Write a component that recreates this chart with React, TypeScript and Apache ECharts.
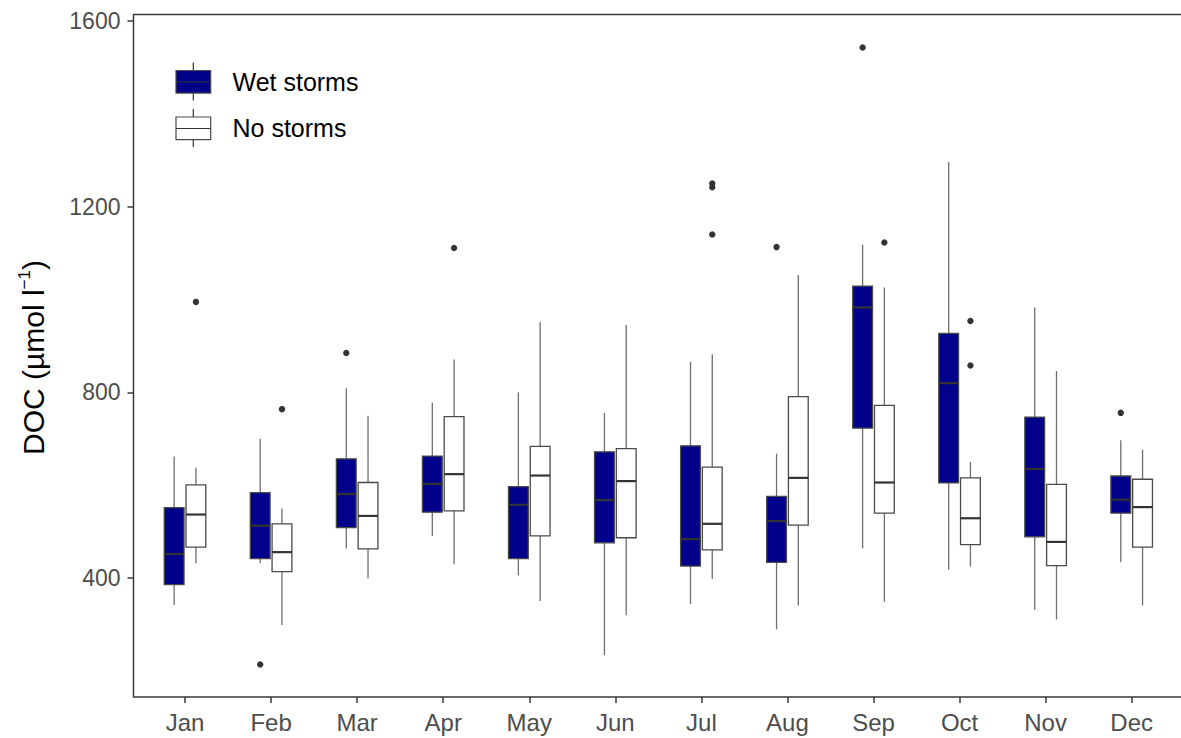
import React, { useEffect, useRef } from "react";
import * as echarts from "echarts";

const months = ["Jan", "Feb", "Mar", "Apr", "May", "Jun", "Jul", "Aug", "Sep", "Oct", "Nov", "Dec"];

// [min, Q1, median, Q3, max] per month
const wetStorms = [
  [342, 386, 452, 552, 662],
  [432, 442, 513, 584, 700],
  [464, 509, 581, 657, 809],
  [491, 542, 603, 663, 778],
  [406, 442, 558, 597, 800],
  [234, 476, 568, 672, 756],
  [344, 426, 484, 685, 866],
  [290, 434, 523, 576, 668],
  [464, 723, 983, 1029, 1118],
  [418, 605, 820, 927, 1296],
  [332, 489, 635, 747, 983],
  [435, 540, 569, 620, 697],
];

const noStorms = [
  [432, 467, 537, 601, 638],
  [299, 414, 456, 517, 550],
  [400, 463, 534, 606, 750],
  [430, 545, 624, 748, 871],
  [351, 491, 621, 684, 951],
  [320, 487, 609, 679, 945],
  [398, 461, 517, 639, 882],
  [341, 514, 616, 791, 1053],
  [349, 540, 606, 772, 1026],
  [425, 472, 529, 616, 650],
  [311, 427, 478, 602, 846],
  [341, 467, 553, 613, 677],
];

// [month index, value]
const wetOutliers = [
  [1, 214],
  [2, 885],
  [7, 1113],
  [8, 1543],
  [11, 756],
];
const noOutliers = [
  [0, 995],
  [1, 764],
  [3, 1111],
  [6, 1250],
  [6, 1242],
  [6, 1140],
  [8, 1123],
  [9, 954],
  [9, 858],
];

const yTicks = [400, 800, 1200, 1600];

const FONT = "'Liberation Sans', Arial, Helvetica, sans-serif";
const WET_FILL = "#00008B";
const BOX_STROKE = "#4a4a4a";
const WHISKER = "#6e6e6e";
const MEDIAN = "#333333";
const OFFSET_FRAC = 0.1265;
const WIDTH_FRAC = 0.23;

function boxRenderer(offsetSign: number, fill: string) {
  return (params: any, api: any) => {
    const idx = api.value(0);
    const bw = api.size([1, 0])[0];
    const cx = api.coord([idx, api.value(3)])[0] + offsetSign * OFFSET_FRAC * bw;
    const half = (WIDTH_FRAC * bw) / 2;
    const yMin = api.coord([idx, api.value(1)])[1];
    const yQ1 = api.coord([idx, api.value(2)])[1];
    const yMed = api.coord([idx, api.value(3)])[1];
    const yQ3 = api.coord([idx, api.value(4)])[1];
    const yMax = api.coord([idx, api.value(5)])[1];
    return {
      type: "group",
      children: [
        { type: "line", shape: { x1: cx, y1: yMax, x2: cx, y2: yQ3 }, style: { stroke: WHISKER, lineWidth: 1.3 } },
        { type: "line", shape: { x1: cx, y1: yQ1, x2: cx, y2: yMin }, style: { stroke: WHISKER, lineWidth: 1.3 } },
        {
          type: "rect",
          shape: { x: cx - half, y: yQ3, width: 2 * half, height: yQ1 - yQ3 },
          style: { fill, stroke: BOX_STROKE, lineWidth: 1.3 },
        },
        {
          type: "line",
          shape: { x1: cx - half, y1: yMed, x2: cx + half, y2: yMed },
          style: { stroke: MEDIAN, lineWidth: 2.2 },
        },
      ],
    };
  };
}

function outlierRenderer(offsetSign: number) {
  return (params: any, api: any) => {
    const idx = api.value(0);
    const bw = api.size([1, 0])[0];
    const p = api.coord([idx, api.value(1)]);
    return {
      type: "circle",
      shape: { cx: p[0] + offsetSign * OFFSET_FRAC * bw, cy: p[1], r: 3.2 },
      style: { fill: "#333333" },
    };
  };
}

export default function App() {
  const ref = useRef<HTMLDivElement>(null);

  useEffect(() => {
    if (!ref.current) return;
    const chart = echarts.init(ref.current, undefined, { renderer: "svg" });

    const wetData = wetStorms.map((d, i) => [i, ...d]);
    const noData = noStorms.map((d, i) => [i, ...d]);

    const legendKey = (y: number, fill: string) => [
      { type: "line", shape: { x1: 193.3, y1: y - 19.5, x2: 193.3, y2: y + 18.5 }, style: { stroke: "#333", lineWidth: 1.2 } },
      {
        type: "rect",
        shape: { x: 176, y: y - 11.5, width: 34.7, height: 22.6 },
        style: { fill, stroke: "#4a4a4a", lineWidth: 1.2 },
      },
      { type: "line", shape: { x1: 176, y1: y, x2: 210.7, y2: y }, style: { stroke: "#333", lineWidth: 1.2 } },
    ];

    chart.setOption({
      animation: false,
      grid: { left: 142, right: 6.3, top: 14.5, bottom: 41, containLabel: false },
      xAxis: {
        type: "category",
        data: months,
        axisLine: { show: false },
        axisTick: { show: true, alignWithLabel: true, length: 6, lineStyle: { color: "#3a3a3a", width: 1.5 } },
        axisLabel: { color: "#4d4d4d", fontSize: 24, fontFamily: FONT, margin: 13 },
        splitLine: { show: false },
      },
      yAxis: {
        type: "value",
        min: 144,
        max: 1614,
        offset: 8.5,
        axisLine: { show: false },
        axisTick: { show: true, length: 6, lineStyle: { color: "#3a3a3a", width: 1.5 }, customValues: yTicks },
        axisLabel: {
          color: "#4d4d4d",
          fontSize: 23,
          fontFamily: FONT,
          margin: 13,
          customValues: yTicks,
          formatter: (v: number) => String(v),
        },
        splitLine: { show: false },
      },
      graphic: [
        {
          type: "rect",
          shape: { x: 133.5, y: 14.5, width: 1070, height: 682.5 },
          style: { fill: "none", stroke: "#3a3a3a", lineWidth: 1.5 },
          z: 10,
        },
        {
          type: "text",
          x: 33.5,
          y: 357.5,
          rotation: Math.PI / 2,
          style: {
            text: "{a|DOC (µmol l}{s|−1}{a|)}",
            align: "center",
            verticalAlign: "middle",
            fill: "#000",
            fontFamily: FONT,
            rich: {
              a: { fontSize: 30, lineHeight: 36, fontFamily: FONT, fill: "#000" },
              s: { fontSize: 17, lineHeight: 17, fontFamily: FONT, fill: "#000", verticalAlign: "top" },
            },
          },
        },
        ...legendKey(82, WET_FILL),
        ...legendKey(128.5, "#ffffff"),
        {
          type: "text",
          x: 232.5,
          y: 82,
          style: { text: "Wet storms", fontSize: 25, fontFamily: FONT, fill: "#000", align: "left", verticalAlign: "middle" },
        },
        {
          type: "text",
          x: 232.5,
          y: 127.5,
          style: { text: "No storms", fontSize: 25, fontFamily: FONT, fill: "#000", align: "left", verticalAlign: "middle" },
        },
      ],
      series: [
        {
          type: "custom",
          name: "Wet storms",
          data: wetData,
          encode: { x: 0, y: [1, 2, 3, 4, 5] },
          renderItem: boxRenderer(-1, WET_FILL),
        },
        {
          type: "custom",
          name: "No storms",
          data: noData,
          encode: { x: 0, y: [1, 2, 3, 4, 5] },
          renderItem: boxRenderer(1, "#ffffff"),
        },
        {
          type: "custom",
          name: "Wet outliers",
          data: wetOutliers,
          encode: { x: 0, y: 1 },
          renderItem: outlierRenderer(-1),
        },
        {
          type: "custom",
          name: "No outliers",
          data: noOutliers,
          encode: { x: 0, y: 1 },
          renderItem: outlierRenderer(1),
        },
      ],
    });

    return () => chart.dispose();
  }, []);

  return <div ref={ref} style={{ position: "fixed", left: 0, top: 0, width: 1181, height: 738, background: "#fff" }} />;
}
